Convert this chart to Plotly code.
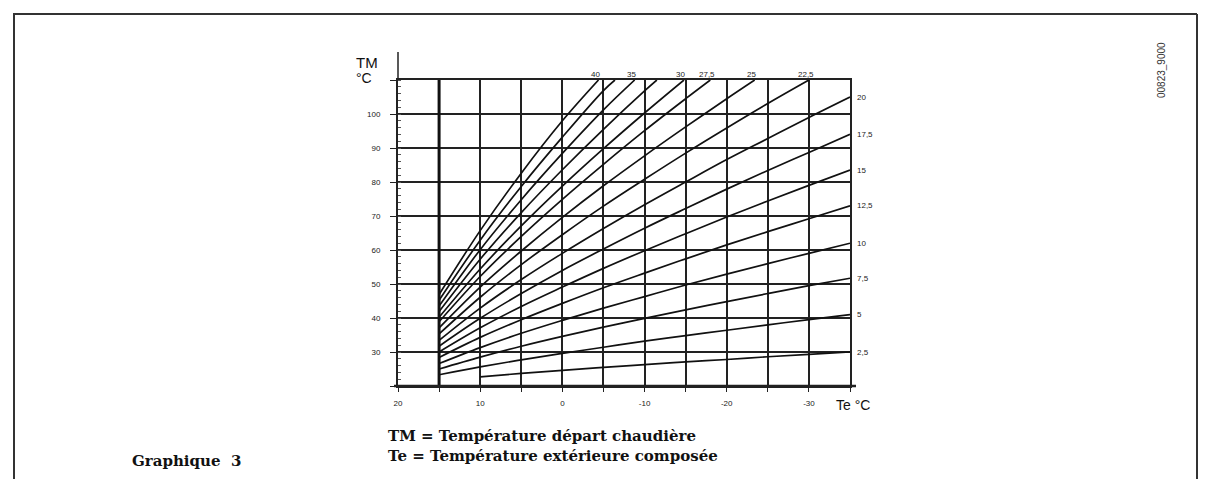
import plotly.graph_objects as go

# Température extérieure composée (°C)
te = [15, 10, 5, 0, -5, -10, -15, -20, -25, -30, -35]

# Température départ chaudière (°C) lue sur chaque courbe de pente
tm_2_5 = [None, 22.7, 23.7, 24.6, 25.5, 26.3, 27.1, 27.8, 28.6, 29.3, 30.0]
tm_5 = [23.3, 25.6, 27.7, 29.6, 31.4, 33.2, 34.8, 36.4, 38.0, 39.5, 41.0]
tm_7_5 = [25.0, 28.5, 31.7, 34.6, 37.3, 39.9, 42.4, 44.8, 47.2, 49.5, 51.7]
tm_10 = [26.6, 31.3, 35.5, 39.3, 42.9, 46.3, 49.7, 52.9, 56.0, 59.0, 62.0]
tm_12_5 = [28.4, 34.3, 39.5, 44.3, 48.9, 53.2, 57.4, 61.5, 65.4, 69.2, 73.0]
tm_15 = [30.0, 37.1, 43.4, 49.1, 54.6, 59.8, 64.8, 69.7, 74.4, 79.0, 83.5]
tm_17_5 = [31.7, 39.9, 47.2, 54.0, 60.3, 66.4, 72.2, 77.9, 83.4, 88.7, 94.0]
tm_20 = [33.4, 42.9, 51.3, 59.0, 66.3, 73.3, 80.0, 86.6, 92.8, 99.0, 105.0]
tm_22_5 = [35.3, 46.1, 55.7, 64.5, 72.9, 80.8, 88.5, 95.9, 103.1]
tm_25 = [37.1, 49.1, 59.7, 69.6, 78.9, 87.7, 96.2, 104.5]
tm_27_5 = [38.9, 52.2, 64.0, 74.9, 85.2, 95.1, 104.5]
tm_30 = [40.2, 54.4, 67.1, 78.8, 89.8, 100.3]
tm_32_5 = [41.9, 57.3, 71.0, 83.6, 95.5, 106.8]
tm_35 = [43.5, 60.1, 74.8, 88.4, 101.2]
tm_37_5 = [45.2, 62.9, 78.7, 93.2, 106.9]
tm_40 = [46.9, 65.7, 82.6, 98.0]

# Te où les courbes raides atteignent TM = 110 °C
top_te_22_5, top_te_25, top_te_27_5, top_te_30 = -30.0, -23.4, -18.0, -14.8
top_te_32_5, top_te_35, top_te_37_5, top_te_40 = -11.5, -8.8, -6.4, -4.4

right_labels = ['2,5', '5', '7,5', '10', '12,5', '15', '17,5', '20']
top_labels = ['22,5', '25', '27,5', '30', '', '35', '', '40']

x_ticks = [20, 15, 10, 5, 0, -5, -10, -15, -20, -25, -30, -35]
x_text = ['20', '', '10', '', '0', '', '-10', '', '-20', '', '-30', '']
y_ticks = [20, 30, 40, 50, 60, 70, 80, 90, 100, 110]
y_text = ['', '30', '40', '50', '60', '70', '80', '90', '100', '']

low_curves = [tm_2_5, tm_5, tm_7_5, tm_10, tm_12_5, tm_15, tm_17_5, tm_20]
high_curves = [tm_22_5, tm_25, tm_27_5, tm_30, tm_32_5, tm_35, tm_37_5, tm_40]
high_tops = [top_te_22_5, top_te_25, top_te_27_5, top_te_30,
             top_te_32_5, top_te_35, top_te_37_5, top_te_40]

# la page html a une marge de 8 px : tout est décalé d'autant
OFF = 8
W, H = 1200, 471
L, T = 398 - OFF, 80 - OFF
pw, ph = 452, 306
R, B = W - L - pw, H - T - ph
def px(x):
    return (x - OFF - L) / pw
def py(y):
    return (H - B - (y - OFF)) / ph

fig = go.Figure()
line_style = dict(color='#111111', width=1.7)

for tm in low_curves:
    fig.add_trace(go.Scatter(x=te, y=tm, mode='lines', line=line_style,
                             line_shape='spline', showlegend=False, hoverinfo='x+y'))
for tm, t_top in zip(high_curves, high_tops):
    fig.add_trace(go.Scatter(x=te[:len(tm)] + [t_top], y=tm + [110], mode='lines',
                             line=line_style, line_shape='spline', showlegend=False,
                             hoverinfo='x+y'))

small = dict(size=8, family='Arial', color='#222')
annotations = []
for lab, tm in zip(right_labels, low_curves):
    annotations.append(dict(x=-35, y=tm[-1], xref='x', yref='y', text=lab, showarrow=False,
                            xanchor='left', yanchor='middle', xshift=5, font=small))
for lab, t_top in zip(top_labels, high_tops):
    if lab:
        annotations.append(dict(x=t_top, y=110, xref='x', yref='y', text=lab, showarrow=False,
                                xanchor='center', yanchor='bottom', xshift=-3, yshift=-1, font=small))

serif = dict(size=15, family='DejaVu Serif', color='#111')
annotations += [
    dict(x=px(354), y=py(62), xref='paper', yref='paper', xanchor='left', yanchor='middle',
         text='TM', showarrow=False, font=dict(size=15, family='Arial', color='#111')),
    dict(x=px(354), y=py(78), xref='paper', yref='paper', xanchor='left', yanchor='middle',
         text='°C', showarrow=False, font=dict(size=14, family='Arial', color='#111')),
    dict(x=px(834), y=py(405), xref='paper', yref='paper', xanchor='left', yanchor='middle',
         text='Te °C', showarrow=False, font=dict(size=14, family='Arial', color='#111')),
    dict(x=px(386), y=py(436), xref='paper', yref='paper', xanchor='left', yanchor='middle',
         text='<b>TM = Température départ chaudière</b>', showarrow=False, font=serif),
    dict(x=px(386), y=py(456), xref='paper', yref='paper', xanchor='left', yanchor='middle',
         text='<b>Te = Température extérieure composée</b>', showarrow=False, font=serif),
    dict(x=px(130), y=py(461), xref='paper', yref='paper', xanchor='left', yanchor='middle',
         text='<b>Graphique  3</b>', showarrow=False, font=serif),
    dict(x=px(1162), y=py(70), xref='paper', yref='paper', xanchor='center', yanchor='middle',
         text='00823_9000', textangle=-90, showarrow=False,
         font=dict(size=10, family='Arial', color='#333')),
]

frame = dict(color='#333333', width=2)
shapes = [
    dict(type='line', xref='paper', yref='paper', x0=px(13), x1=px(1197), y0=py(14), y1=py(14), line=frame),
    dict(type='line', xref='paper', yref='paper', x0=px(14), x1=px(14), y0=py(14), y1=py(479), line=frame),
    dict(type='line', xref='paper', yref='paper', x0=px(1197), x1=px(1197), y0=py(14), y1=py(479), line=frame),
    # prolongement de l'axe TM
    dict(type='line', xref='paper', yref='paper', x0=0, x1=0, y0=1, y1=py(52), line=dict(color='#222', width=1.5)),
    # ligne épaisse à Te = 15
    dict(type='line', xref='x', yref='paper', x0=15, x1=15, y0=0, y1=1, line=dict(color='#111', width=3)),
    # prolongement de l'axe Te
    dict(type='line', xref='paper', yref='paper', x0=px(394), x1=px(856), y0=0, y1=0, line=dict(color='#222', width=2.5)),
]

fig.update_layout(
    width=W, height=H,
    margin=dict(l=L, r=R, t=T, b=B),
    plot_bgcolor='white', paper_bgcolor='white',
    xaxis=dict(range=[20, -35], tickvals=x_ticks, ticktext=x_text, showgrid=True,
               gridcolor='#222222', gridwidth=2, zeroline=False, showline=True, mirror=True,
               linecolor='#222222', linewidth=2, ticks='outside', ticklen=4, tickcolor='#222',
               ticklabelstandoff=4, tickfont=small),
    yaxis=dict(range=[20, 110], tickvals=y_ticks, ticktext=y_text, showgrid=True,
               gridcolor='#222222', gridwidth=2, zeroline=False, showline=True, mirror=True,
               linecolor='#222222', linewidth=2, ticks='outside', ticklen=6, tickcolor='#222',
               ticklabelstandoff=8, tickfont=small,
               minor=dict(ticks='inside', dtick=2, ticklen=3, tickcolor='#555', showgrid=False)),
    annotations=annotations,
    shapes=shapes,
)

fig.write_html("out.html")
